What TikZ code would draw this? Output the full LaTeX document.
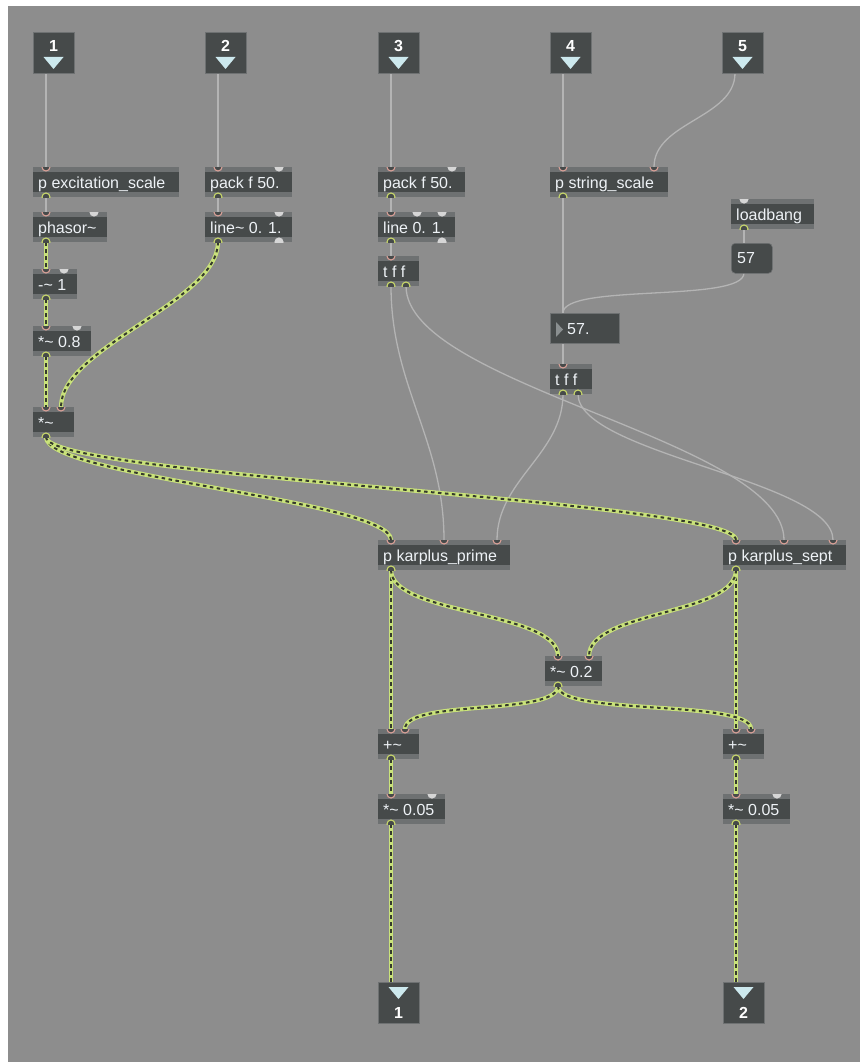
\documentclass[tikz,border=0pt]{standalone}
\usepackage{fontspec}
\setmainfont{Liberation Sans}
\usetikzlibrary{fit}

\definecolor{canvas}{HTML}{8D8D8D}
\definecolor{body}{HTML}{464A4A}
\definecolor{strip}{HTML}{6E7172}
\definecolor{txt}{HTML}{EEF2F6}
\definecolor{tri}{HTML}{CDE9EE}
\definecolor{inring}{HTML}{D9A097}
\definecolor{outring}{HTML}{C8D86A}
\definecolor{coldport}{HTML}{D6D6D6}
\definecolor{ctlcord}{HTML}{B4B4B4}
\definecolor{siggreen}{HTML}{C9E27A}
\definecolor{sigdark}{HTML}{353A2C}
\definecolor{flotri}{HTML}{8A8F90}

\pgfdeclarelayer{back}
\pgfdeclarelayer{cords}
\pgfsetlayers{back,cords,main}

\newcommand\tld{\char"7E\relax}

\tikzset{
  lbl/.style={text=txt, font=\fontsize{16}{16}\selectfont, inner sep=0pt},
  numlbl/.style={text=white, font=\fontsize{16}{16}\selectfont\bfseries, inner sep=0pt},
  iobox/.style={fill=body, draw=strip, line width=0.8pt, minimum width=41pt,
    minimum height=41pt, inner sep=0pt, anchor=north west},
  ctl/.style={draw=ctlcord, line width=1.3pt},
  sig/.style={draw=sigdark, line width=2pt, dash pattern=on 3.5pt off 3.5pt,
    preaction={draw=siggreen, line width=4.2pt, solid}},
}

% object box: name, left, top, right, label
\newcommand\mobj[5]{%
  \fill[strip] (#2,#3) rectangle (#4,#3+30);
  \fill[body] (#2,#3+5) rectangle (#4,#3+25);
  \path (#2,#3) coordinate (#1-nw) (#4,#3+30) coordinate (#1-se);
  \node[fit=(#1-nw)(#1-se), inner sep=0pt] (#1) {};
  \node[lbl, anchor=base west] (#1-t) at (#2+5,#3+21) {#5};
}
% hot inlet, cold inlet, outlet, cold outlet: name, x, y
\newcommand\hin[3]{\coordinate (#1) at (#2,#3);
  \begin{scope}\clip (#2-6,#3) rectangle (#2+6,#3+6);
  \filldraw[draw=inring, fill=body, line width=1.1pt] (#1) circle (4pt);\end{scope}}
\newcommand\cin[3]{\coordinate (#1) at (#2,#3);
  \begin{scope}\clip (#2-7,#3) rectangle (#2+7,#3+6);
  \fill[coldport] (#1) circle (4.6pt);\end{scope}}
\newcommand\hout[3]{\coordinate (#1) at (#2,#3);
  \begin{scope}\clip (#2-6,#3-6) rectangle (#2+6,#3);
  \filldraw[draw=outring, fill=body, line width=1.1pt] (#1) circle (4pt);\end{scope}}
\newcommand\cout[3]{\coordinate (#1) at (#2,#3);
  \begin{scope}\clip (#2-7,#3-6) rectangle (#2+7,#3);
  \fill[coldport] (#1) circle (4.6pt);\end{scope}}
% patcher inlet / outlet boxes: name, left, top, number
\newcommand\inbox[4]{%
  \node[iobox] (#1) at (#2,#3) {};
  \node[numlbl, anchor=base] (#1-n) at (#2+20.5,#3+20) {#4};
  \fill[tri] (#2+10.5,#3+25) -- (#2+30.5,#3+25) -- (#2+20.5,#3+37) -- cycle;
  \coordinate (#1-o) at (#2+13,#3+41);
}
\newcommand\outbox[4]{%
  \node[iobox] (#1) at (#2,#3) {};
  \fill[tri] (#2+10.5,#3+5) -- (#2+30.5,#3+5) -- (#2+20.5,#3+17) -- cycle;
  \node[numlbl, anchor=base] (#1-n) at (#2+20.5,#3+36) {#4};
  \coordinate (#1-i) at (#2+13,#3);
}
\newcommand\cord[4][ctl]{\draw[#1] (#2) .. controls +(0,#4) and +(0,-#4) .. (#3);}

\begin{document}
\begin{tikzpicture}[x=1pt, y=-1pt]
\useasboundingbox (0,0) rectangle (860,1062);
\begin{pgfonlayer}{back}
  \fill[white] (0,0) rectangle (860,1062);
  \fill[canvas] (8,6) rectangle (860,1062);
\end{pgfonlayer}

% inlets
\inbox{in1}{33}{32}{1}
\inbox{in2}{205}{32}{2}
\inbox{in3}{378}{32}{3}
\inbox{in4}{550}{32}{4}
\inbox{in5}{722}{32}{5}

% excitation chain
\mobj{exc}{33}{167}{179}{p excitation\_scale}
\hin{exc-i}{46}{167} \hout{exc-o}{46}{197}
\mobj{ph}{33}{212}{107}{phasor\tld}
\hin{ph-i}{46}{212} \cin{ph-c}{94}{212} \hout{ph-o}{46}{242}
\mobj{sub}{33}{269}{77}{-\tld{} 1}
\hin{sub-i}{46}{269} \cin{sub-c}{64}{269} \hout{sub-o}{46}{299}
\mobj{mul8}{33}{326}{91}{*\tld{} 0.8}
\hin{mul8-i}{46}{326} \cin{mul8-c}{77}{326} \hout{mul8-o}{46}{356}
\mobj{mul}{33}{407}{74}{*\tld}
\hin{mul-i1}{46}{407} \hin{mul-i2}{61}{407} \hout{mul-o}{46}{437}

% envelope
\mobj{pk1}{205}{167}{292}{pack f 50.}
\hin{pk1-i}{218}{167} \cin{pk1-c}{279}{167} \hout{pk1-o}{218}{197}
\mobj{ln1}{205}{212}{292}{line\tld{} 0. 1.}
\hin{ln1-i}{218}{212} \cin{ln1-c}{279}{212} \hout{ln1-o}{218}{242} \cout{ln1-b}{279}{242}

% pitch ramp
\mobj{pk3}{378}{167}{465}{pack f 50.}
\hin{pk3-i}{391}{167} \cin{pk3-c}{452}{167} \hout{pk3-o}{391}{197}
\mobj{ln3}{378}{212}{455}{line 0. 1.}
\hin{ln3-i}{391}{212} \cin{ln3-c1}{417}{212} \cin{ln3-c2}{442}{212}
\hout{ln3-o}{391}{242} \cout{ln3-b}{442}{242}
\mobj{t1}{378}{256}{419}{t f f}
\hin{t1-i}{391}{256} \hout{t1-o1}{391}{286} \hout{t1-o2}{406}{286}

% string scale
\mobj{ss}{550}{167}{668}{p string\_scale}
\hin{ss-i1}{563}{167} \hin{ss-i2}{654}{167} \hout{ss-o}{563}{197}
\mobj{lb}{731}{199}{814}{loadbang}
\cin{lb-i}{744}{199} \hout{lb-o}{744}{229}
\node[fill=body, draw=strip, line width=0.6pt, rounded corners=4pt, minimum width=41pt,
  minimum height=30pt, inner sep=0pt, anchor=north west] (msg) at (731,243) {};
\node[lbl, anchor=base west] (msg-t) at (737,263) {57};
\coordinate (msg-i) at (744,243); \coordinate (msg-o) at (744,273);
\node[fill=body, draw=strip, line width=0.6pt, minimum width=69pt,
  minimum height=30pt, inner sep=0pt, anchor=north west] (flo) at (550,313) {};
\fill[flotri] (556,322) -- (563,329.5) -- (556,337) -- cycle;
\node[lbl, anchor=base west] (flo-t) at (567,334) {57.};
\coordinate (flo-i) at (563,313); \coordinate (flo-o) at (563,343);
\mobj{t2}{550}{364}{592}{t f f}
\hin{t2-i}{563}{364} \hout{t2-o1}{563}{394} \hout{t2-o2}{578}{394}

% karplus voices and mix
\mobj{kp}{378}{540}{510}{p karplus\_prime}
\hin{kp-i1}{391}{540} \hin{kp-i2}{444}{540} \hin{kp-i3}{497}{540} \hout{kp-o}{391}{570}
\mobj{ks}{723}{540}{846}{p karplus\_sept}
\hin{ks-i1}{736}{540} \hin{ks-i2}{784}{540} \hin{ks-i3}{833}{540} \hout{ks-o}{736}{570}
\mobj{m2}{545}{656}{602}{*\tld{} 0.2}
\hin{m2-i1}{558}{656} \hin{m2-i2}{589}{656} \hout{m2-o}{558}{686}
\mobj{addL}{378}{729}{419}{+\tld}
\hin{addL-i1}{391}{729} \hin{addL-i2}{405}{729} \hout{addL-o}{391}{759}
\mobj{addR}{723}{729}{764}{+\tld}
\hin{addR-i1}{736}{729} \hin{addR-i2}{751}{729} \hout{addR-o}{736}{759}
\mobj{m5L}{378}{794}{445}{*\tld{} 0.05}
\hin{m5L-i}{391}{794} \cin{m5L-c}{432}{794} \hout{m5L-o}{391}{824}
\mobj{m5R}{723}{794}{790}{*\tld{} 0.05}
\hin{m5R-i}{736}{794} \cin{m5R-c}{777}{794} \hout{m5R-o}{736}{824}

% outlets
\outbox{out1}{378}{982}{1}
\outbox{out2}{723}{982}{2}

\begin{pgfonlayer}{cords}
  % control cords
  \draw[ctl] (in1-o) -- (exc-i);
  \draw[ctl] (in2-o) -- (pk1-i);
  \draw[ctl] (in3-o) -- (pk3-i);
  \draw[ctl] (in4-o) -- (ss-i1);
  \cord{in5-o}{ss-i2}{45}
  \draw[ctl] (exc-o) -- (ph-i);
  \draw[ctl] (pk1-o) -- (ln1-i);
  \draw[ctl] (pk3-o) -- (ln3-i);
  \draw[ctl] (ln3-o) -- (t1-i);
  \draw[ctl] (ss-o) -- (flo-i);
  \draw[ctl] (lb-o) -- (msg-i);
  \cord{msg-o}{flo-i}{30}
  \draw[ctl] (flo-o) -- (t2-i);
  \cord{t1-o1}{kp-i2}{100}
  \cord{t1-o2}{ks-i2}{100}
  \cord{t2-o1}{kp-i3}{60}
  \cord{t2-o2}{ks-i3}{60}
  % signal cords
  \draw[sig] (ph-o) -- (sub-i);
  \draw[sig] (sub-o) -- (mul8-i);
  \draw[sig] (mul8-o) -- (mul-i1);
  \cord[sig]{ln1-o}{mul-i2}{60}
  \cord[sig]{mul-o}{kp-i1}{40}
  \cord[sig]{mul-o}{ks-i1}{40}
  \draw[sig] (kp-o) -- (addL-i1);
  \cord[sig]{kp-o}{m2-i1}{45}
  \draw[sig] (ks-o) -- (addR-i1);
  \cord[sig]{ks-o}{m2-i2}{45}
  \cord[sig]{m2-o}{addL-i2}{30}
  \cord[sig]{m2-o}{addR-i2}{30}
  \draw[sig] (addL-o) -- (m5L-i);
  \draw[sig] (m5L-o) -- (out1-i);
  \draw[sig] (addR-o) -- (m5R-i);
  \draw[sig] (m5R-o) -- (out2-i);
\end{pgfonlayer}
\end{tikzpicture}
\end{document}
